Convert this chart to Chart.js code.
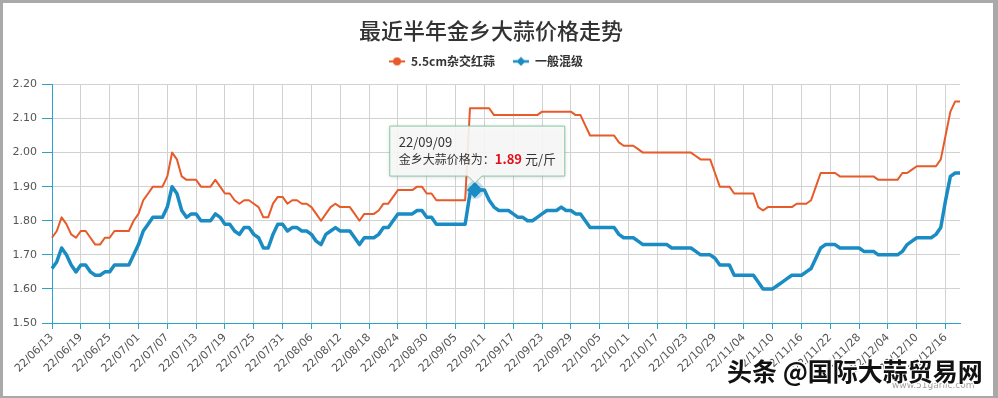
<!DOCTYPE html>
<html>
<head>
<meta charset="utf-8">
<title>最近半年金乡大蒜价格走势</title>
<script src="https://cdn.jsdelivr.net/npm/chart.js@4.4.1/dist/chart.umd.min.js"></script>
<style>
  html, body { margin: 0; padding: 0; background: #fff; }
  #wrap { position: relative; width: 998px; height: 398px; overflow: hidden; background: #fff; }
  #chart { position: absolute; left: 0; top: 0; }
  #frame { position: absolute; left: 0; top: 0; width: 998px; height: 398px; box-sizing: border-box;
           border-style: solid; border-color: #a9a9a9; border-width: 3px 5px 2px 3px; pointer-events: none; }
  #site { position: absolute; left: 892px; top: 380px; font: 9px "DejaVu Sans", sans-serif; color: #a0a0a0; }
  #mark { position: absolute; left: 727px; top: 358px; font: bold 25px "Noto Sans CJK SC", sans-serif; color: #111;
          line-height: 1; white-space: nowrap;
          text-shadow: -1px -1px 0 #fff, 1px -1px 0 #fff, -1px 1px 0 #fff, 1px 1px 0 #fff, 0 0 2px #fff; }
</style>
</head>
<body>
<div id="wrap">
  <canvas id="chart" width="982" height="398"></canvas>
  <div id="site">www.51garlic.com</div>
  <div id="mark">头条 @国际大蒜贸易网</div>
  <div id="frame"></div>
</div>
<script>
// daily dates, 22/06/13 .. 22/12/19
const labels = [
  '22/06/13','22/06/14','22/06/15','22/06/16','22/06/17','22/06/18','22/06/19','22/06/20','22/06/21','22/06/22',
  '22/06/23','22/06/24','22/06/25','22/06/26','22/06/27','22/06/28','22/06/29','22/06/30',
  '22/07/01','22/07/02','22/07/03','22/07/04','22/07/05','22/07/06','22/07/07','22/07/08','22/07/09','22/07/10',
  '22/07/11','22/07/12','22/07/13','22/07/14','22/07/15','22/07/16','22/07/17','22/07/18','22/07/19','22/07/20',
  '22/07/21','22/07/22','22/07/23','22/07/24','22/07/25','22/07/26','22/07/27','22/07/28','22/07/29','22/07/30','22/07/31',
  '22/08/01','22/08/02','22/08/03','22/08/04','22/08/05','22/08/06','22/08/07','22/08/08','22/08/09','22/08/10',
  '22/08/11','22/08/12','22/08/13','22/08/14','22/08/15','22/08/16','22/08/17','22/08/18','22/08/19','22/08/20',
  '22/08/21','22/08/22','22/08/23','22/08/24','22/08/25','22/08/26','22/08/27','22/08/28','22/08/29','22/08/30','22/08/31',
  '22/09/01','22/09/02','22/09/03','22/09/04','22/09/05','22/09/06','22/09/07','22/09/08','22/09/09','22/09/10',
  '22/09/11','22/09/12','22/09/13','22/09/14','22/09/15','22/09/16','22/09/17','22/09/18','22/09/19','22/09/20',
  '22/09/21','22/09/22','22/09/23','22/09/24','22/09/25','22/09/26','22/09/27','22/09/28','22/09/29','22/09/30',
  '22/10/01','22/10/02','22/10/03','22/10/04','22/10/05','22/10/06','22/10/07','22/10/08','22/10/09','22/10/10',
  '22/10/11','22/10/12','22/10/13','22/10/14','22/10/15','22/10/16','22/10/17','22/10/18','22/10/19','22/10/20',
  '22/10/21','22/10/22','22/10/23','22/10/24','22/10/25','22/10/26','22/10/27','22/10/28','22/10/29','22/10/30','22/10/31',
  '22/11/01','22/11/02','22/11/03','22/11/04','22/11/05','22/11/06','22/11/07','22/11/08','22/11/09','22/11/10',
  '22/11/11','22/11/12','22/11/13','22/11/14','22/11/15','22/11/16','22/11/17','22/11/18','22/11/19','22/11/20',
  '22/11/21','22/11/22','22/11/23','22/11/24','22/11/25','22/11/26','22/11/27','22/11/28','22/11/29','22/11/30',
  '22/12/01','22/12/02','22/12/03','22/12/04','22/12/05','22/12/06','22/12/07','22/12/08','22/12/09','22/12/10',
  '22/12/11','22/12/12','22/12/13','22/12/14','22/12/15','22/12/16','22/12/17','22/12/18','22/12/19'
];

// 5.5cm杂交红蒜 (元/斤)
const redGarlic = [
  1.75, 1.77, 1.81, 1.79, 1.76, 1.75, 1.77, 1.77, 1.75, 1.73,
  1.73, 1.75, 1.75, 1.77, 1.77, 1.77, 1.77, 1.80, 1.82, 1.86,
  1.88, 1.90, 1.90, 1.90, 1.93, 2.00, 1.98, 1.93, 1.92, 1.92,
  1.92, 1.90, 1.90, 1.90, 1.92, 1.90, 1.88, 1.88, 1.86, 1.85,
  1.86, 1.86, 1.85, 1.84, 1.81, 1.81, 1.85, 1.87, 1.87, 1.85,
  1.86, 1.86, 1.85, 1.85, 1.84, 1.82, 1.80, 1.82, 1.84, 1.85,
  1.84, 1.84, 1.84, 1.82, 1.80, 1.82, 1.82, 1.82, 1.83, 1.85,
  1.85, 1.87, 1.89, 1.89, 1.89, 1.89, 1.90, 1.90, 1.88, 1.88,
  1.86, 1.86, 1.86, 1.86, 1.86, 1.86, 1.86, 2.13, 2.13, 2.13,
  2.13, 2.13, 2.11, 2.11, 2.11, 2.11, 2.11, 2.11, 2.11, 2.11,
  2.11, 2.11, 2.12, 2.12, 2.12, 2.12, 2.12, 2.12, 2.12, 2.11,
  2.11, 2.08, 2.05, 2.05, 2.05, 2.05, 2.05, 2.05, 2.03, 2.02,
  2.02, 2.02, 2.01, 2.00, 2.00, 2.00, 2.00, 2.00, 2.00, 2.00,
  2.00, 2.00, 2.00, 2.00, 1.99, 1.98, 1.98, 1.98, 1.94, 1.90,
  1.90, 1.90, 1.88, 1.88, 1.88, 1.88, 1.88, 1.84, 1.83, 1.84,
  1.84, 1.84, 1.84, 1.84, 1.84, 1.85, 1.85, 1.85, 1.86, 1.90,
  1.94, 1.94, 1.94, 1.94, 1.93, 1.93, 1.93, 1.93, 1.93, 1.93,
  1.93, 1.93, 1.92, 1.92, 1.92, 1.92, 1.92, 1.94, 1.94, 1.95,
  1.96, 1.96, 1.96, 1.96, 1.96, 1.98, 2.05, 2.12, 2.15, 2.15
];

// 一般混级 (元/斤)
const mixedGrade = [
  1.66, 1.68, 1.72, 1.70, 1.67, 1.65, 1.67, 1.67, 1.65, 1.64,
  1.64, 1.65, 1.65, 1.67, 1.67, 1.67, 1.67, 1.70, 1.73, 1.77,
  1.79, 1.81, 1.81, 1.81, 1.84, 1.90, 1.88, 1.83, 1.81, 1.82,
  1.82, 1.80, 1.80, 1.80, 1.82, 1.81, 1.79, 1.79, 1.77, 1.76,
  1.78, 1.78, 1.76, 1.75, 1.72, 1.72, 1.76, 1.79, 1.79, 1.77,
  1.78, 1.78, 1.77, 1.77, 1.76, 1.74, 1.73, 1.76, 1.77, 1.78,
  1.77, 1.77, 1.77, 1.75, 1.73, 1.75, 1.75, 1.75, 1.76, 1.78,
  1.78, 1.80, 1.82, 1.82, 1.82, 1.82, 1.83, 1.83, 1.81, 1.81,
  1.79, 1.79, 1.79, 1.79, 1.79, 1.79, 1.79, 1.88, 1.89, 1.89,
  1.89, 1.86, 1.84, 1.83, 1.83, 1.83, 1.82, 1.81, 1.81, 1.80,
  1.80, 1.81, 1.82, 1.83, 1.83, 1.83, 1.84, 1.83, 1.83, 1.82,
  1.82, 1.80, 1.78, 1.78, 1.78, 1.78, 1.78, 1.78, 1.76, 1.75,
  1.75, 1.75, 1.74, 1.73, 1.73, 1.73, 1.73, 1.73, 1.73, 1.72,
  1.72, 1.72, 1.72, 1.72, 1.71, 1.70, 1.70, 1.70, 1.69, 1.67,
  1.67, 1.67, 1.64, 1.64, 1.64, 1.64, 1.64, 1.62, 1.60, 1.60,
  1.60, 1.61, 1.62, 1.63, 1.64, 1.64, 1.64, 1.65, 1.66, 1.69,
  1.72, 1.73, 1.73, 1.73, 1.72, 1.72, 1.72, 1.72, 1.72, 1.71,
  1.71, 1.71, 1.70, 1.70, 1.70, 1.70, 1.70, 1.71, 1.73, 1.74,
  1.75, 1.75, 1.75, 1.75, 1.76, 1.78, 1.86, 1.93, 1.94, 1.94
];

const yTickValues = [1.5, 1.6, 1.7, 1.8, 1.9, 2.0, 2.1, 2.2];
const seriesNames = ['5.5cm杂交红蒜', '一般混级'];
const HIGHLIGHT = 88; // the point the tooltip sits on (22/09/09)

const RED = '#e75a2a';
const BLUE = '#1a8cc3';
const TEAL = '#2ba2c9';
const GRID = '#d2d2d2';

// small legend markers: short line with a dot / diamond on it
function makeMarker(color, shape, lw) {
  const c = document.createElement('canvas');
  c.width = 18;
  c.height = 10;
  const g = c.getContext('2d');
  g.strokeStyle = color;
  g.fillStyle = color;
  g.lineWidth = lw;
  g.beginPath();
  g.moveTo(1, 5);
  g.lineTo(17, 5);
  g.stroke();
  g.beginPath();
  if (shape === 'circle') {
    g.arc(9, 5, 4, 0, Math.PI * 2);
  } else {
    g.moveTo(9, 0.5);
    g.lineTo(13.5, 5);
    g.lineTo(9, 9.5);
    g.lineTo(4.5, 5);
    g.closePath();
  }
  g.fill();
  return c;
}
const redMarker = makeMarker(RED, 'circle', 2);
const blueMarker = makeMarker(BLUE, 'diamond', 2.5);

// extra room between the legend and the plot
const legendGap = {
  id: 'legendGap',
  beforeInit(chart) {
    const fitValue = chart.legend.fit;
    chart.legend.fit = function fit() {
      fitValue.bind(chart.legend)();
      this.height += 7;
    };
  }
};

// the original centres title and legend on the whole picture, not on the plot
const centreHeader = {
  id: 'centreHeader',
  afterLayout(chart) {
    chart.titleBlock.right = chart.width;
    chart.legend.right = chart.width - 10;
  }
};

// the fixed tooltip shown in the picture
const fixedTip = {
  id: 'fixedTip',
  beforeDatasetsDraw(chart) {
    const pt = chart.getDatasetMeta(1).data[HIGHLIGHT];
    const ctx = chart.ctx;
    ctx.save();
    ctx.fillStyle = 'rgba(26,140,195,0.25)';
    ctx.beginPath();
    ctx.arc(pt.x, pt.y, 9, 0, Math.PI * 2);
    ctx.fill();
    ctx.restore();
  },
  afterDraw(chart) {
    const pt = chart.getDatasetMeta(1).data[HIGHLIGHT];
    const ctx = chart.ctx;
    const px = pt.x, py = pt.y;
    const left = px - 85, top = py - 64, w = 175, h = 50;

    ctx.save();
    ctx.beginPath();
    ctx.moveTo(left, top);
    ctx.lineTo(left + w, top);
    ctx.lineTo(left + w, top + h);
    ctx.lineTo(px + 7, top + h);
    ctx.lineTo(px, top + h + 7);
    ctx.lineTo(px - 7, top + h);
    ctx.lineTo(left, top + h);
    ctx.closePath();
    ctx.shadowColor = 'rgba(0,0,0,0.18)';
    ctx.shadowBlur = 4;
    ctx.shadowOffsetY = 1;
    ctx.fillStyle = 'rgba(249,249,249,0.9)';
    ctx.fill();
    ctx.shadowColor = 'transparent';
    ctx.strokeStyle = '#86c7a1';
    ctx.lineWidth = 1;
    ctx.stroke();

    ctx.textBaseline = 'middle';
    ctx.textAlign = 'left';
    ctx.fillStyle = '#333';
    ctx.font = '13px "Noto Sans CJK SC", sans-serif';
    ctx.fillText(labels[HIGHLIGHT], left + 9, top + 16);

    const lead = '金乡大蒜价格为：';
    ctx.font = '12px "Noto Sans CJK SC", sans-serif';
    let x = left + 9;
    ctx.fillText(lead, x, top + 33);
    x += ctx.measureText(lead).width;
    const val = mixedGrade[HIGHLIGHT].toFixed(2);
    ctx.font = 'bold 13px "Noto Sans CJK SC", sans-serif';
    ctx.fillStyle = '#e0101a';
    ctx.fillText(val, x, top + 33);
    x += ctx.measureText(val).width;
    ctx.font = '13px "Noto Sans CJK SC", sans-serif';
    ctx.fillStyle = '#333';
    ctx.fillText(' 元/斤', x, top + 33);
    ctx.restore();
  }
};

Chart.defaults.font.family = '"Noto Sans CJK SC", "Noto Sans", sans-serif';

const ctx = document.getElementById('chart').getContext('2d');
new Chart(ctx, {
  type: 'line',
  data: {
    labels: labels,
    datasets: [
      {
        label: seriesNames[0],
        data: redGarlic,
        borderColor: RED,
        backgroundColor: RED,
        borderWidth: 2,
        tension: 0,
        borderJoinStyle: 'round',
        pointRadius: 0,
        pointStyle: redMarker,
      },
      {
        label: seriesNames[1],
        data: mixedGrade,
        borderColor: BLUE,
        backgroundColor: BLUE,
        borderWidth: 3.5,
        tension: 0,
        borderJoinStyle: 'round',
        pointRadius: (c) => (c.dataIndex === HIGHLIGHT ? 5.5 : 0),
        pointStyle: (c) => (c.dataIndex === HIGHLIGHT ? 'rectRot' : blueMarker),
        pointBackgroundColor: BLUE,
        pointBorderColor: BLUE,
      },
    ],
  },
  options: {
    responsive: false,
    animation: false,
    events: [],
    layout: { padding: { left: 0, right: 22, top: 0, bottom: 0 } },
    plugins: {
      title: {
        display: true,
        text: '最近半年金乡大蒜价格走势',
        color: '#333',
        font: { size: 22, weight: '500' },
        padding: { top: 17, bottom: -6 },
      },
      legend: {
        labels: {
          usePointStyle: true,
          pointStyleWidth: 16,
          padding: 18,
          color: '#333',
          font: { size: 12, weight: 'bold' },
        },
      },
      tooltip: { enabled: false },
    },
    scales: {
      x: {
        afterBuildTicks: (s) => {
          s.ticks = s.ticks.filter((t) => t.value % 6 === 0);
        },
        afterFit: (s) => {
          s.height = 75;
        },
        ticks: {
          autoSkip: false,
          minRotation: 45,
          maxRotation: 45,
          padding: 2,
          color: '#555',
          font: { family: '"DejaVu Sans", sans-serif', size: 11 },
        },
        grid: { color: GRID, tickColor: TEAL, tickLength: 6 },
        border: { color: TEAL, width: 1 },
      },
      y: {
        min: 1.5,
        max: 2.2,
        afterBuildTicks: (s) => {
          s.ticks = yTickValues.map((v) => ({ value: v }));
        },
        afterFit: (s) => {
          s.width = 52;
        },
        ticks: {
          padding: 5,
          color: '#555',
          font: { family: '"DejaVu Sans", sans-serif', size: 11 },
          callback: (v) => Number(v).toFixed(2),
        },
        grid: { color: GRID, tickColor: TEAL, tickLength: 10 },
        border: { color: TEAL, width: 1 },
      },
    },
  },
  plugins: [legendGap, centreHeader, fixedTip],
});
</script>
</body>
</html>
